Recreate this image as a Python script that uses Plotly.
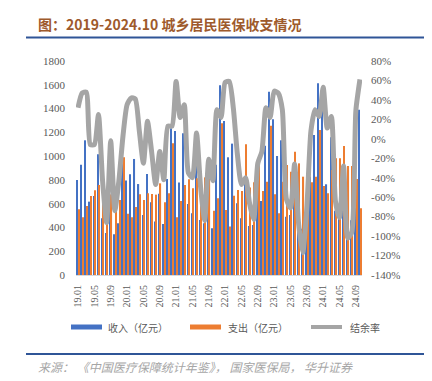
import plotly.graph_objects as go

months = [
    "19.01", "19.02", "19.03", "19.04", "19.05", "19.06", "19.07", "19.08", "19.09", "19.10", "19.11", "19.12",
    "20.01", "20.02", "20.03", "20.04", "20.05", "20.06", "20.07", "20.08", "20.09", "20.10", "20.11", "20.12",
    "21.01", "21.02", "21.03", "21.04", "21.05", "21.06", "21.07", "21.08", "21.09", "21.10", "21.11", "21.12",
    "22.01", "22.02", "22.03", "22.04", "22.05", "22.06", "22.07", "22.08", "22.09", "22.10", "22.11", "22.12",
    "23.01", "23.02", "23.03", "23.04", "23.05", "23.06", "23.07", "23.08", "23.09", "23.10", "23.11", "23.12",
    "24.01", "24.02", "24.03", "24.04", "24.05", "24.06", "24.07", "24.08", "24.09", "24.10",
]

income = [
    800, 928, 1133, 617, 665, 1015, 477, 354, 673, 342, 435, 1000,
    794, 847, 976, 765, 505, 850, 611, 449, 684, 429, 807, 1234,
    1211, 779, 1192, 597, 519, 953, 463, 435, 673, 393, 928, 1595,
    1295, 990, 1105, 603, 477, 785, 412, 420, 736, 622, 1088, 1542,
    1309, 1001, 1133, 491, 505, 820, 500, 390, 570, 827, 1178, 1612,
    1444, 763, 1158, 540, 480, 925, 450, 460, 1100, 1390,
]

expense = [
    552, 485, 580, 665, 712, 757, 620, 600, 678, 560, 630, 990,
    516, 485, 572, 680, 631, 687, 681, 676, 771, 611, 687, 1108,
    485, 623, 757, 805, 729, 813, 763, 821, 813, 540, 645, 1276,
    547, 407, 667, 715, 707, 1099, 735, 780, 920, 707, 785, 1256,
    679, 519, 785, 925, 869, 1037, 939, 827, 981, 780, 827, 1220,
    749, 687, 883, 981, 981, 1085, 917, 917, 807, 561,
]

rate = [
    32, 47, 48, -6, -6, 25, -43, -86, -2, -74, -43, 3,
    35, 42, 41, 8, -25, 18, -13, -47, -13, -42, 13, 13,
    59, 22, 35, -35, -40, 6, -50, -84, -21, -43, 30, 22,
    58, 59, 32, -16, -47, -40, -67, -83, -25, -13, 32, 22,
    49, 47, 30, -62, -71, -26, -88, -117, -71, 8, 30, 23,
    53, 11, 23, -64, -81, -28, -102, -96, 29, 61,
]

left_ticks = [0, 200, 400, 600, 800, 1000, 1200, 1400, 1600, 1800]
right_ticks = [-140, -120, -100, -80, -60, -40, -20, 0, 20, 40, 60, 80]
x_ticks = months[::4]

names = ["收入（亿元）", "支出（亿元）", "结余率"]
colors = ["#4472C4", "#ED7D31", "#A5A5A5"]

W, H = 432, 381
ML, MR, MT, MB = 68, 78, 53, 114
PW = W - ML - MR
PH = H - MT - MB


def px(x):
    return (x - ML) / PW


def py(y):
    return (H - MB - y) / PH


fig = go.Figure()
fig.add_bar(x=months, y=income, name=names[0], marker=dict(color=colors[0], line=dict(width=0)))
fig.add_bar(x=months, y=expense, name=names[1], marker=dict(color=colors[1], line=dict(width=0)))
fig.add_scatter(x=months, y=rate, name=names[2], yaxis="y2", mode="lines",
                line=dict(color=colors[2], width=5, shape="spline", smoothing=0.6))

serif = "Times New Roman"
tick_font = dict(family=serif, size=11, color="#595959")

fig.update_layout(
    width=W, height=H,
    margin=dict(l=ML, r=MR, t=MT, b=MB),
    paper_bgcolor="white", plot_bgcolor="white",
    barmode="group", bargap=0.25, bargroupgap=0.25,
    showlegend=False,
    xaxis=dict(type="category", tickmode="array", tickvals=x_ticks, ticktext=x_ticks,
               tickangle=-90, tickfont=dict(family=serif, size=10, color="#595959"),
               showline=True, linecolor="#D9D9D9", linewidth=1, ticks="", showgrid=False,
               ticklabelstandoff=5),
    yaxis=dict(range=[0, 1800], tickmode="array", tickvals=left_ticks,
               ticktext=[str(v) for v in left_ticks], tickfont=tick_font,
               showgrid=False, zeroline=False, showline=False, ticks="", ticklabelstandoff=10),
    yaxis2=dict(range=[-140, 80], overlaying="y", side="right", tickmode="array",
                tickvals=right_ticks, ticktext=[f"{v}%" for v in right_ticks], tickfont=tick_font,
                showgrid=False, zeroline=False, showline=False, ticks="", ticklabelstandoff=8),
)

cjk = "Noto Sans CJK SC"
shapes = []
annotations = []

# title
annotations.append(dict(text="<b>图：2019-2024.10 城乡居民医保收支情况</b>", x=px(28), y=py(15.5),
                        xref="paper", yref="paper", xanchor="left", yanchor="middle", showarrow=False,
                        font=dict(family=cjk, size=14, color="#9E5A2C")))
# rules
for yy in (29.5, 346):
    shapes.append(dict(type="line", xref="paper", yref="paper", x0=px(18), x1=px(423), y0=py(yy), y1=py(yy),
                       line=dict(color="#2F5597", width=2)))

# legend
leg_y = 319
shapes.append(dict(type="rect", xref="paper", yref="paper", x0=px(63), x1=px(94), y0=py(leg_y - 2.5),
                   y1=py(leg_y + 2.5), fillcolor=colors[0], line=dict(width=0)))
shapes.append(dict(type="rect", xref="paper", yref="paper", x0=px(182), x1=px(213), y0=py(leg_y - 2.5),
                   y1=py(leg_y + 2.5), fillcolor=colors[1], line=dict(width=0)))
shapes.append(dict(type="line", xref="paper", yref="paper", x0=px(303), x1=px(334), y0=py(leg_y),
                   y1=py(leg_y), line=dict(color=colors[2], width=4)))
for tx, name in zip((98, 218, 340), names):
    annotations.append(dict(text=name, x=px(tx), y=py(leg_y), xref="paper", yref="paper",
                            xanchor="left", yanchor="middle", showarrow=False,
                            font=dict(family=cjk, size=10, color="#595959")))

# source
annotations.append(dict(text="<i>来源： 《中国医疗保障统计年鉴》， 国家医保局， 华升证券</i>", x=px(28), y=py(358),
                        xref="paper", yref="paper", xanchor="left", yanchor="middle", showarrow=False,
                        font=dict(family=cjk, size=12, color="#A6A6A6")))

fig.update_layout(shapes=shapes, annotations=annotations)

fig.write_html("out.html")
